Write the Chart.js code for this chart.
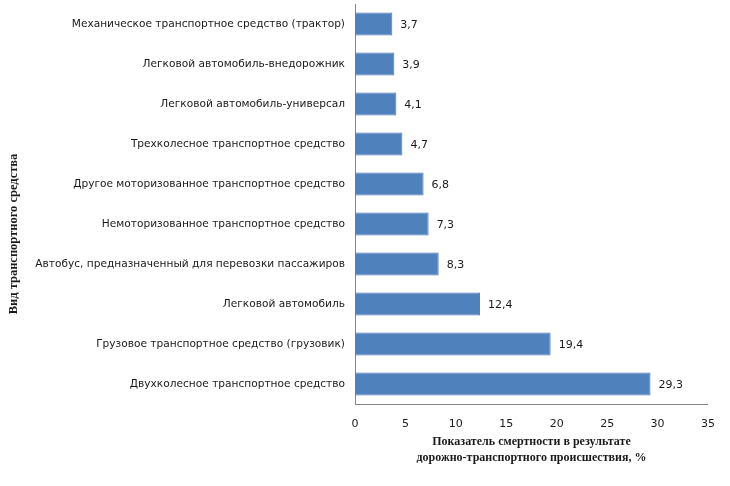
<!DOCTYPE html>
<html>
<head>
<meta charset="utf-8">
<script src="https://cdn.jsdelivr.net/npm/chart.js@4"></script>
<style>
  html, body { margin: 0; padding: 0; background: #fff; }
  #wrap { width: 730px; height: 486px; position: relative; }
</style>
</head>
<body>
<div id="wrap"><canvas id="chart"></canvas></div>
<script>
// categories, top to bottom
const categories = [
  "Механическое транспортное средство (трактор)",
  "Легковой автомобиль-внедорожник",
  "Легковой автомобиль-универсал",
  "Трехколесное транспортное средство",
  "Другое моторизованное транспортное средство",
  "Немоторизованное транспортное средство",
  "Автобус, предназначенный для перевозки пассажиров",
  "Легковой автомобиль",
  "Грузовое транспортное средство (грузовик)",
  "Двухколесное транспортное средство",
];
const values = [3.7, 3.9, 4.1, 4.7, 6.8, 7.3, 8.3, 12.4, 19.4, 29.3];

const xTitleLines = ["Показатель смертности в результате", "дорожно-транспортного происшествия, %"];
const yTitle = "Вид транспортного средства";

const SANS = "'DejaVu Sans', Verdana, sans-serif";
const SERIF = "'Liberation Serif', 'Times New Roman', serif";

// value labels at bar ends
const valueLabels = {
  id: "valueLabels",
  afterDatasetsDraw(chart) {
    const { ctx } = chart;
    const meta = chart.getDatasetMeta(0);
    ctx.save();
    ctx.font = "11px " + SANS;
    ctx.fillStyle = "#1a1a1a";
    ctx.textAlign = "left";
    ctx.textBaseline = "middle";
    meta.data.forEach((bar, i) => {
      ctx.fillText(values[i].toFixed(1).replace(".", ","), bar.x + 8, bar.y + 1);
    });
    ctx.restore();
  },
};

// axis titles (bold serif, as in the source)
const axisTitles = {
  id: "axisTitles",
  afterDraw(chart) {
    const { ctx, chartArea } = chart;
    ctx.save();
    ctx.fillStyle = "#1a1a1a";
    ctx.font = "bold 12px " + SERIF;
    ctx.textAlign = "center";
    ctx.textBaseline = "middle";
    const cx = (chartArea.left + chartArea.right) / 2;
    ctx.fillText(xTitleLines[0], cx, 442);
    ctx.fillText(xTitleLines[1], cx, 458);
    ctx.font = "bold 12.5px " + SERIF;
    ctx.translate(14, 234);
    ctx.rotate(-Math.PI / 2);
    ctx.fillText(yTitle, 0, 0);
    ctx.restore();
  },
};

// bottom axis line drawn over the bars' base
const bottomLine = {
  id: "bottomLine",
  afterDatasetsDraw(chart) {
    const { ctx, chartArea } = chart;
    ctx.save();
    ctx.strokeStyle = "#868686";
    ctx.lineWidth = 1;
    ctx.beginPath();
    ctx.moveTo(chartArea.left, Math.round(chartArea.bottom) + 0.5);
    ctx.lineTo(chartArea.right, Math.round(chartArea.bottom) + 0.5);
    ctx.stroke();
    ctx.restore();
  },
};

new Chart(document.getElementById("chart"), {
  type: "bar",
  data: {
    labels: categories,
    datasets: [{
      data: values,
      backgroundColor: "#4F81BD",
      borderColor: "#4a7ab5",
      borderWidth: 1,
      barPercentage: 0.58,
      categoryPercentage: 1,
    }],
  },
  options: {
    indexAxis: "y",
    responsive: true,
    maintainAspectRatio: false,
    animation: false,
    layout: { padding: { top: 4, right: 22, left: 0, bottom: 0 } },
    plugins: {
      legend: { display: false },
      tooltip: { enabled: false },
    },
    scales: {
      x: {
        min: 0,
        max: 35,
        ticks: {
          stepSize: 5,
          padding: 14,
          color: "#1a1a1a",
          font: { family: SANS, size: 11 },
        },
        grid: { display: false, drawTicks: false },
        border: { display: false },
        afterFit(scale) { scale.height = 82; },
      },
      y: {
        ticks: {
          padding: 10,
          color: "#1a1a1a",
          autoSkip: false,
          font: { family: SANS, size: 10.6 },
        },
        grid: { display: false, drawTicks: false },
        border: { color: "#868686", width: 1 },
        afterFit(scale) {
          scale.width = 355;
          scale.paddingTop = 0;
          scale.paddingBottom = 0;
        },
      },
    },
  },
  plugins: [valueLabels, axisTitles, bottomLine],
});
</script>
</body>
</html>
